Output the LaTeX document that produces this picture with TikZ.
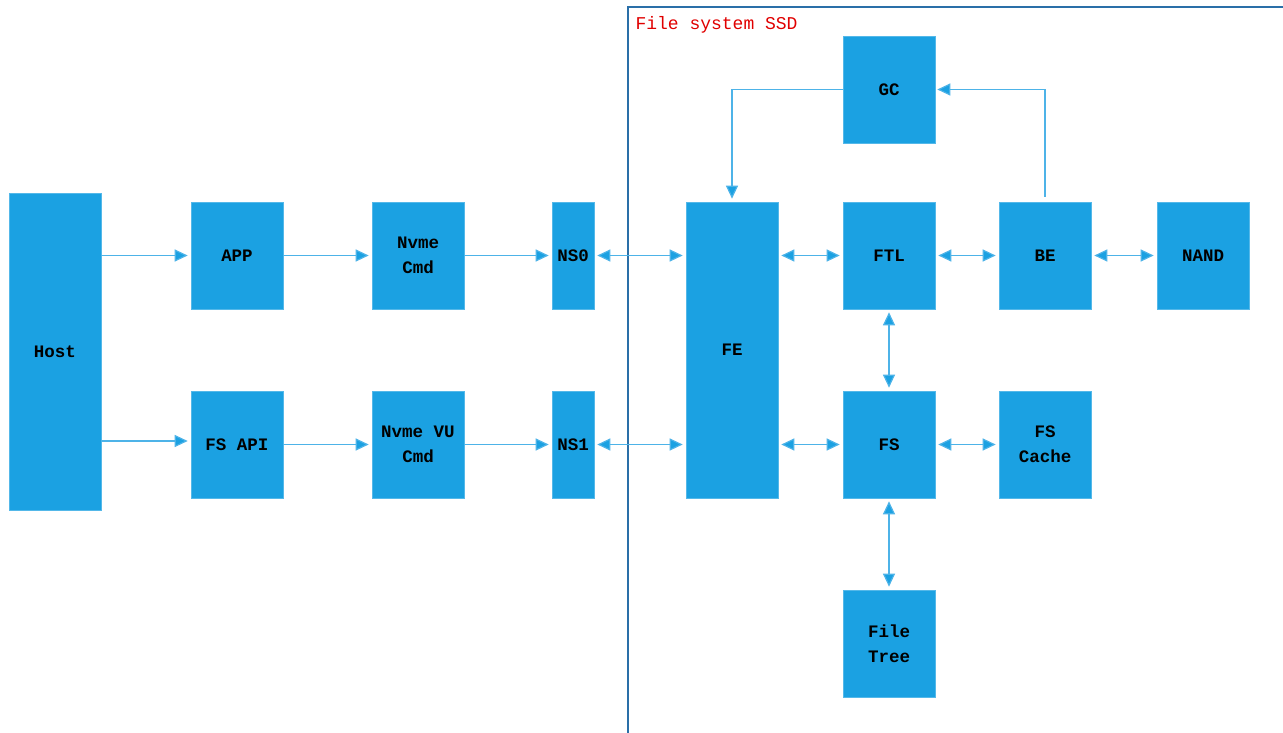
\documentclass[tikz,border=0pt]{standalone}
\usepackage{fontspec}
\setmonofont{Liberation Mono}
\usepackage{tikz}
\usetikzlibrary{arrows.meta,positioning}
\definecolor{ssdBlue}{HTML}{1BA1E2}
\definecolor{ssdLine}{HTML}{4DB3E8}
\definecolor{ssdFrame}{HTML}{2A6FA8}
\definecolor{ssdRed}{HTML}{E00000}

\begin{document}
\begin{tikzpicture}[x=1pt, y=-1pt, line cap=butt,
    >={Triangle[length=13pt, width=12pt, fill=ssdBlue]},
    font=\ttfamily\bfseries\fontsize{17.5}{25}\selectfont,
    blk/.style={fill=ssdBlue, draw=ssdBlue!75!white, line width=0.6pt,
                minimum width=92pt, minimum height=107pt, inner sep=0pt,
                align=center, text=black},
    lnk/.style={ssdLine, line width=1.2pt, shorten >=3pt, shorten <=3pt}]
    \useasboundingbox (0,0) rectangle (1283,733);

    % ── SSD frame ─────────────────────────────────────────────────────────
    \draw[ssdFrame, line width=1.3pt] (628,733) -- (628,7) -- (1283,7);
    \node[ssdRed, anchor=west, font=\ttfamily\fontsize{18}{20}\selectfont]
      (ssdlabel) at (632,25) {File system SSD};

    % ── host side ─────────────────────────────────────────────────────────
    \node[blk, minimum height=317pt] (host) at (55,351.5) {Host};
    \node[blk] (app)   at (237,255.5) {APP};
    \node[blk] (fsapi) at (237,444.5) {FS API};
    \node[blk] (nvme)  at (418,255.5) {Nvme\\Cmd};
    \node[blk] (nvmevu) at (418,444.5) {Nvme VU\\Cmd};
    \node[blk, minimum width=42pt] (ns0) at (573,255.5) {NS0};
    \node[blk, minimum width=42pt] (ns1) at (573,444.5) {NS1};

    % ── SSD side ──────────────────────────────────────────────────────────
    \node[blk, minimum height=296pt] (fe) at (732,350) {FE};
    \node[blk] (gc)    at (889,89.5)  {GC};
    \node[blk] (ftl)   at (889,255.5) {FTL};
    \node[blk] (be)    at (1045,255.5) {BE};
    \node[blk] (nand)  at (1203,255.5) {NAND};
    \node[blk] (fs)    at (889,444.5) {FS};
    \node[blk] (cache) at (1045,444.5) {FS\\Cache};
    \node[blk] (tree)  at (889,643.5) {File\\Tree};

    % ── command path ──────────────────────────────────────────────────────
    \draw[lnk, ->, shorten <=0pt] (host.east |- app.west) -- (app.west);
    \draw[lnk, ->, shorten <=0pt] (host.east |- 0,441) -- (fsapi.west |- 0,441);
    \draw[lnk, ->, shorten <=0pt] (app) -- (nvme);
    \draw[lnk, ->, shorten <=0pt] (fsapi) -- (nvmevu);
    \draw[lnk, ->, shorten <=0pt] (nvme) -- (ns0);
    \draw[lnk, ->, shorten <=0pt] (nvmevu) -- (ns1);
    \draw[lnk, <->] (ns0.east) -- (ns0.east -| fe.west);
    \draw[lnk, <->] (ns1.east) -- (ns1.east -| fe.west);

    % ── inside the drive ──────────────────────────────────────────────────
    \draw[lnk, <->] (ftl.west -| fe.east) -- (ftl.west);
    \draw[lnk, <->] (fs.west -| fe.east) -- (fs.west);
    \draw[lnk, <->] (ftl) -- (be);
    \draw[lnk, <->] (be) -- (nand);
    \draw[lnk, <->] (ftl) -- (fs);
    \draw[lnk, <->] (fs) -- (cache);
    \draw[lnk, <->] (fs) -- (tree);

    % ── garbage collection loop ───────────────────────────────────────────
    \draw[lnk, ->, shorten <=0pt] (gc.west) -| (fe.north);
    \draw[lnk, ->, shorten <=5pt, shorten >=2pt] (be.north) |- (gc.east);
\end{tikzpicture}
\end{document}
